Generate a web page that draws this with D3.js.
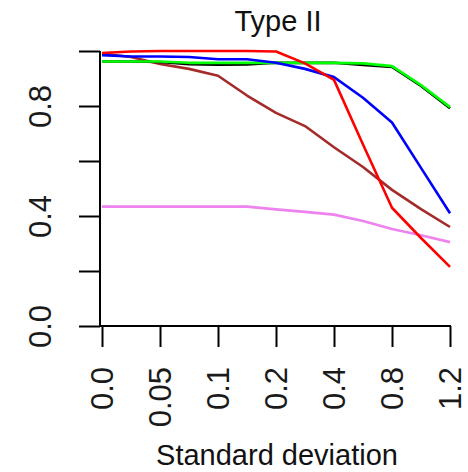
<!DOCTYPE html>
<html>
<head>
<meta charset="utf-8">
<script src="https://cdn.jsdelivr.net/npm/d3@7"></script>
<style>
  html, body { margin: 0; padding: 0; background: #fff; }
  svg { display: block; }
  text { font-family: "Liberation Sans", Arial, Helvetica, sans-serif; fill: #111; }
</style>
</head>
<body>
<svg id="chart" width="468" height="472"></svg>
<script>
// ---- data ----
const categories = ["0.0", "0.05", "0.1", "0.2", "0.4", "0.8", "1.2"];
// sample positions in category-index units (half steps between categories)
const samplePos = [0, 0.5, 1, 1.5, 2, 2.5, 3, 3.5, 4, 4.5, 5, 5.5, 6];
const violetValues = [0.434, 0.434, 0.434, 0.434, 0.434, 0.434, 0.424, 0.415, 0.405, 0.382, 0.353, 0.330, 0.305];
const brownValues  = [0.990, 0.978, 0.953, 0.935, 0.910, 0.838, 0.775, 0.727, 0.650, 0.578, 0.495, 0.425, 0.360];
const blackValues  = [0.962, 0.962, 0.960, 0.952, 0.950, 0.951, 0.957, 0.957, 0.957, 0.949, 0.942, 0.873, 0.792];
const greenValues  = [0.962, 0.962, 0.962, 0.957, 0.957, 0.957, 0.957, 0.957, 0.957, 0.955, 0.945, 0.876, 0.796];
const blueValues   = [0.985, 0.980, 0.980, 0.978, 0.970, 0.970, 0.957, 0.935, 0.905, 0.830, 0.740, 0.575, 0.410];
const redValues    = [0.993, 0.998, 1.000, 1.000, 1.000, 1.000, 0.998, 0.955, 0.895, 0.660, 0.430, 0.320, 0.215];
const yTicks = [0, 0.2, 0.4, 0.6, 0.8, 1.0];
const yLabelled = [0, 0.4, 0.8];
const titleText = "Type II";
const xTitle = "Standard deviation";

const series = [
  { name: "violet", color: "#ee82ee", values: violetValues },
  { name: "brown",  color: "#a52a2a", values: brownValues },
  { name: "black",  color: "#000000", values: blackValues },
  { name: "green",  color: "#00ff00", values: greenValues },
  { name: "blue",   color: "#0000ff", values: blueValues },
  { name: "red",    color: "#ff0000", values: redValues }
];

// ---- layout ----
const mLeft = 102, mRight = 450, mTop = 51, mBottom = 326;
const svg = d3.select("#chart");

const xCat = d3.scalePoint().domain(categories).range([mLeft, mRight]);
const xIdx = d3.scaleLinear().domain([0, categories.length - 1]).range([mLeft, mRight]);
const y = d3.scaleLinear().domain([0, 1]).range([mBottom, mTop]);

// lines
const line = d3.line()
  .x((d, i) => xIdx(samplePos[i]))
  .y(d => y(d));

svg.append("g").selectAll("path")
  .data(series)
  .join("path")
  .attr("d", s => line(s.values))
  .attr("fill", "none")
  .attr("stroke", s => s.color)
  .attr("stroke-width", 2.6)
  .attr("stroke-linejoin", "round");

// y axis
const yAxis = d3.axisLeft(y)
  .tickValues(yTicks)
  .tickSize(21)
  .tickFormat(d => yLabelled.some(v => Math.abs(v - d) < 1e-9) ? d.toFixed(1) : "");
const gy = svg.append("g").attr("transform", `translate(${mLeft - 2},0)`).call(yAxis);
gy.attr("font-family", null).attr("font-size", null);
gy.select(".domain").attr("d", `M0,${y(0)}V${y(1)}`).attr("stroke", "#000").attr("stroke-width", 2);
gy.selectAll(".tick line").attr("stroke", "#000").attr("stroke-width", 2);
gy.selectAll(".tick text")
  .attr("x", null)
  .attr("transform", "translate(-59.5,0) rotate(-90)")
  .attr("text-anchor", "middle")
  .attr("dy", "0.35em")
  .style("font-size", "31px")
  .style("fill", "#1a1a1a");

// x axis
const xAxis = d3.axisBottom(xCat).tickSize(21).tickPadding(0);
const gx = svg.append("g").attr("transform", `translate(0,${mBottom})`).call(xAxis);
gx.attr("font-family", null).attr("font-size", null);
gx.select(".domain").attr("d", `M${mLeft - 2},0H${mRight + 1}`).attr("stroke", "#000").attr("stroke-width", 2);
gx.selectAll(".tick line").attr("stroke", "#000").attr("stroke-width", 2);
gx.selectAll(".tick text")
  .attr("y", null)
  .attr("transform", "translate(0,41) rotate(-90)")
  .attr("text-anchor", "end")
  .attr("dy", "0.35em")
  .style("font-size", "31px")
  .style("fill", "#1a1a1a");

// titles
svg.append("text")
  .attr("x", (mLeft + mRight) / 2 + 2)
  .attr("y", 31)
  .attr("text-anchor", "middle")
  .style("font-size", "29px")
  .text(titleText);

svg.append("text")
  .attr("x", (mLeft + mRight) / 2 + 1)
  .attr("y", 465)
  .attr("text-anchor", "middle")
  .style("font-size", "29px")
  .text(xTitle);
</script>
</body>
</html>
